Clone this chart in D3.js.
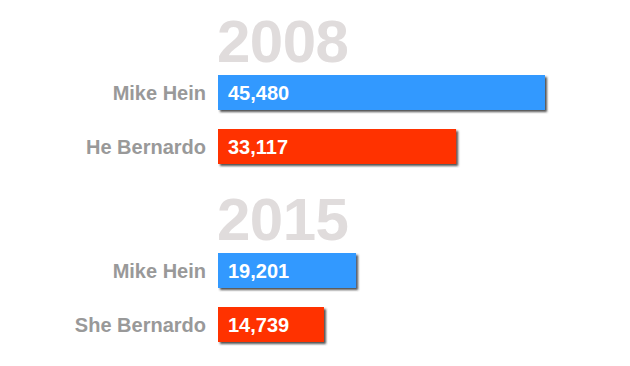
<!DOCTYPE html>
<html>
<head>
<meta charset="UTF-8">
<style>
  body { margin: 0; background: #fff; }
  text { font-family: "Liberation Sans", Arial, Helvetica, sans-serif; font-weight: bold; }
</style>
</head>
<body>
<svg width="630" height="366"></svg>
<script src="https://cdn.jsdelivr.net/npm/d3@7"></script>
<script>

var years = ["2008", "2015"];
var names2008 = ["Mike Hein", "He Bernardo"];
var values2008 = [45480, 33117];
var names2015 = ["Mike Hein", "She Bernardo"];
var values2015 = [19201, 14739];
var colors = ["#3399ff", "#ff3300"];

var groups = [
  {year: years[0], names: names2008, values: values2008},
  {year: years[1], names: names2015, values: values2015}
];

var svg = d3.select("svg");

var defs = svg.append("defs");
defs.append("filter")
    .attr("id", "shadow")
    .attr("x", "-5%").attr("y", "-20%")
    .attr("width", "115%").attr("height", "150%")
  .append("feDropShadow")
    .attr("dx", 2)
    .attr("dy", 2)
    .attr("stdDeviation", 0.8)
    .attr("flood-color", "#333")
    .attr("flood-opacity", 0.85);

var x = d3.scaleLinear()
  .domain([0, d3.max(values2008)])
  .range([218, 545]);

// one band per year block
var gy = d3.scaleBand()
  .domain(years)
  .range([0, 356]);

// rows within a block
var ry = d3.scaleBand()
  .domain([0, 1])
  .range([75, 164])
  .paddingInner(0.352)
  .paddingOuter(0);

var fmt = d3.format(",");

var block = svg.selectAll("g.block")
  .data(groups)
  .enter().append("g")
    .attr("class", "block")
    .attr("transform", function(d) { return "translate(0," + gy(d.year) + ")"; });

block.append("text")
    .attr("x", 217)
    .attr("y", 62)
    .attr("fill", "#e0dcdc")
    .attr("font-size", 60)
    .attr("letter-spacing", -0.5)
    .text(function(d) { return d.year; });

var row = block.selectAll("g.row")
  .data(function(d) {
    return d.values.map(function(v, i) { return {name: d.names[i], value: v, i: i}; });
  })
  .enter().append("g")
    .attr("class", "row")
    .attr("transform", function(d) { return "translate(0," + ry(d.i) + ")"; });

row.append("rect")
    .attr("x", x(0))
    .attr("y", 0)
    .attr("width", function(d) { return x(d.value) - x(0); })
    .attr("height", ry.bandwidth())
    .attr("fill", function(d) { return colors[d.i]; })
    .attr("filter", "url(#shadow)");

row.append("text")
    .attr("x", x(0) - 12)
    .attr("y", ry.bandwidth() / 2)
    .attr("dy", "0.37em")
    .attr("text-anchor", "end")
    .attr("fill", "#999")
    .attr("font-size", 20)
    .text(function(d) { return d.name; });

row.append("text")
    .attr("x", x(0) + 10)
    .attr("y", ry.bandwidth() / 2)
    .attr("dy", "0.37em")
    .attr("fill", "#fff")
    .attr("font-size", 20)
    .text(function(d) { return fmt(d.value); });

</script>
</body>
</html>
